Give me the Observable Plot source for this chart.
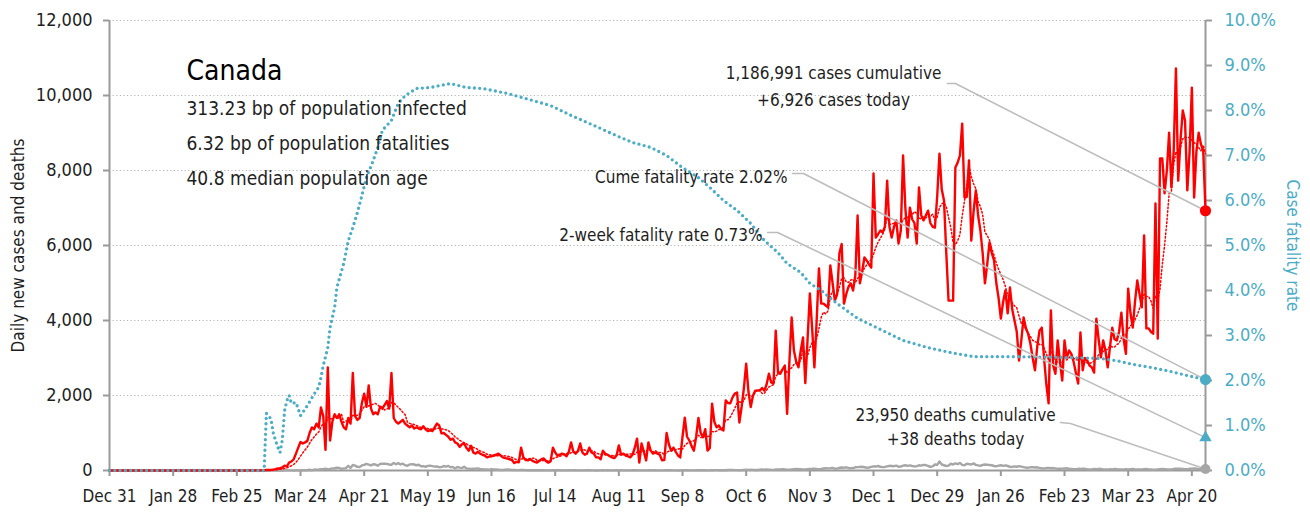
<!DOCTYPE html>
<html><head><meta charset="utf-8">
<script src="https://cdn.jsdelivr.net/npm/d3@7"></script>
<script src="https://cdn.jsdelivr.net/npm/@observablehq/plot@0.6"></script>
<style>
html,body{margin:0;padding:0;background:#fff;}
#chart svg{display:block;}
</style></head><body><div id="chart"></div>
<script>
// ---------------- DATA ----------------
const country = "Canada";
const statLines = ["313.23 bp of population infected", "6.32 bp of population fatalities", "40.8 median population age"];
const domainStart = "2019-12-31";
const domainEnd = "2021-04-26";
const seriesStart = "2020-03-01"; // daily series below start here (earlier days: no cases reported)

// daily new cases, one row per week starting Sunday 2020-03-01
const dailyCases = [
  2, 4, 3, 3, 7, 3, 9,
  6, 13, 16, 15, 25, 36, 55,
  60, 80, 130, 110, 210, 240, 300,
  450, 610, 760, 720, 750, 790, 1000,
  1150, 1100, 1250, 1150, 1680, 1450, 550,
  2750, 800, 1300, 1500, 1400, 1500, 1300,
  1150, 1100, 1400, 1250, 2600, 1450, 1350,
  1400, 1800, 2050, 1700, 2270, 1650, 1500,
  1550, 1500, 1700, 1650, 1750, 1850, 1650,
  2600, 1400, 1300, 1250, 1300, 1350, 1250,
  1200, 1150, 1200, 1120, 1150, 1120, 1100,
  1180, 1100, 1050, 1080, 1050, 1150, 1250,
  1200, 990, 1000, 950, 900, 820, 850,
  750, 720, 630, 700, 720, 600, 530,
  660, 480, 450, 500, 450, 420, 400,
  350, 370, 380, 400, 420, 450, 400,
  350, 330, 320, 300, 280, 200, 230,
  220, 610, 350, 280, 270, 300, 260,
  230, 210, 260, 300, 320, 250, 210,
  250, 610, 480, 400, 420, 450, 430,
  380, 500, 750, 500, 450, 520, 720,
  480, 420, 450, 610, 480, 450, 350,
  350, 300, 530, 450, 420, 380, 350,
  330, 400, 670, 420, 450, 400, 380,
  350, 420, 600, 850, 210, 720, 500,
  270, 750, 530, 450, 480, 450, 420,
  270, 280, 1000, 700, 530, 610, 500,
  400, 350, 900, 1410, 900, 800, 650,
  530, 900, 1400, 1000, 890, 1100, 530,
  600, 1780, 1300, 1150, 1200, 1100, 1070,
  1870, 1800, 1790, 1950, 2050, 2080, 1280,
  1700, 2200, 2850, 2100, 1690, 2000, 2130,
  2130, 2130, 2200, 2130, 2300, 2580, 2350,
  2320, 3730, 2600, 2580, 2700, 2800, 1510,
  2900, 4080, 3200, 2900, 2750, 3200, 3550,
  2330, 3500, 4720, 3800, 2750, 4000, 5390,
  4450, 4450, 4400, 4350, 5470, 5000, 4530,
  4700, 5790, 6040, 4450, 4700, 4900, 4990,
  4800, 5200, 6800, 4990, 5300, 5680, 5600,
  5500, 5410, 7920, 6210, 6300, 6400, 6350,
  6500, 7730, 6500, 6210, 6500, 6670, 6050,
  6400, 8400, 7000, 6210, 7010, 6700, 6600,
  6050, 7550, 6800, 6670, 6800, 6930, 6600,
  6500, 6480, 7300, 8450, 7500, 7200, 5800,
  4530, 4530, 4530, 8080, 8210, 8400, 9250,
  7280, 7300, 8270, 6130, 6900, 7470, 6800,
  6400, 5800, 4990, 5500, 6080, 5800, 5600,
  5000, 4600, 4050, 4500, 4800, 4190, 4880,
  4300, 4000, 3700, 2930, 3470, 4080, 3800,
  3650, 3380, 3000, 2670, 3300, 3730, 3810,
  3000, 2300, 1790, 4270, 2800, 2580, 3470,
  2900, 2400, 3470, 3000, 3200, 3110, 2900,
  2600, 2320, 3680, 2670, 3000, 2930, 2800,
  2750, 2610, 4050, 3500, 3020, 3470, 3200,
  2750, 3300, 3810, 3500, 3470, 3700, 4210,
  3500, 3110, 4850, 4200, 3810, 4500, 5070,
  4700, 4350, 6270, 3790, 3790, 3700, 3650,
  7120, 3520, 8320, 8320, 7390, 8000, 9010,
  7550, 8500, 10720, 7730, 8800, 9600, 9330,
  7470, 8500, 10210, 7280, 8500, 9010, 8700,
  8530, 6926
];

// daily new deaths, same days
const dailyDeaths = [
  0, 0, 0, 0, 0, 0, 0,
  0, 1, 0, 0, 0, 0, 0,
  0, 0, 3, 2, 3, 4, 1,
  7, 4, 5, 8, 8, 6, 20,
  5, 25, 24, 23, 33, 36, 49,
  38, 41, 58, 61, 72, 69, 44,
  56, 65, 126, 67, 147, 130, 97,
  95, 135, 148, 176, 159, 135, 166,
  161, 129, 175, 183, 181, 176, 160,
  152, 202, 166, 197, 161, 182, 141,
  125, 162, 167, 160, 139, 154, 112,
  115, 100, 122, 130, 116, 102, 106,
  88, 90, 120, 101, 121, 86, 96,
  56, 93, 78, 68, 98, 55, 50,
  40, 45, 50, 55, 40, 35, 30,
  25, 20, 35, 30, 25, 20, 15,
  15, 20, 25, 20, 15, 12, 10,
  10, 12, 15, 10, 8, 7, 5,
  5, 6, 8, 5, 7, 4, 3,
  4, 5, 6, 8, 5, 3, 2,
  3, 5, 4, 6, 5, 2, 3,
  3, 4, 5, 6, 3, 2, 2,
  2, 4, 5, 3, 6, 4, 2,
  3, 5, 4, 6, 3, 2, 3,
  4, 6, 5, 5, 4, 3, 2,
  3, 5, 6, 4, 5, 3, 2,
  3, 4, 5, 6, 5, 3, 2,
  2, 3, 5, 6, 7, 4, 3,
  3, 6, 5, 7, 8, 5, 4,
  5, 8, 10, 9, 8, 6, 5,
  6, 12, 14, 15, 11, 10, 8,
  9, 15, 20, 18, 22, 17, 12,
  14, 20, 25, 22, 27, 24, 20,
  18, 25, 30, 28, 32, 27, 22,
  20, 30, 35, 40, 33, 38, 25,
  28, 35, 42, 45, 50, 40, 35,
  40, 55, 60, 58, 62, 70, 48,
  50, 72, 80, 75, 85, 68, 60,
  65, 85, 90, 95, 100, 88, 75,
  80, 95, 110, 105, 120, 100, 90,
  95, 110, 125, 120, 115, 130, 100,
  105, 130, 140, 125, 135, 120, 110,
  115, 140, 130, 150, 145, 120, 100,
  110, 160, 150, 240, 160, 140, 120,
  130, 180, 160, 190, 170, 200, 150,
  140, 180, 170, 160, 190, 150, 135,
  125, 150, 160, 155, 145, 140, 120,
  110, 130, 140, 125, 135, 120, 100,
  95, 110, 100, 115, 105, 90, 80,
  75, 85, 90, 80, 85, 70, 60,
  55, 65, 70, 60, 65, 55, 45,
  45, 50, 55, 60, 45, 40, 35,
  35, 45, 40, 50, 45, 35, 30,
  30, 40, 35, 45, 40, 30, 25,
  25, 35, 30, 40, 35, 30, 25,
  25, 35, 30, 35, 40, 30, 25,
  25, 30, 35, 40, 30, 25, 20,
  20, 30, 35, 40, 35, 30, 25,
  25, 40, 45, 50, 45, 40, 35,
  35, 45, 50, 55, 48, 40, 35,
  35, 38
];

// cumulative case fatality rate (%), read at these dates
const cfrDates = ["2019-12-31","2020-03-08","2020-03-09","2020-03-11","2020-03-12","2020-03-13","2020-03-14","2020-03-15","2020-03-16","2020-03-17","2020-03-18","2020-03-19","2020-03-20","2020-03-22","2020-03-23","2020-03-24","2020-03-25","2020-03-27","2020-03-30","2020-04-01","2020-04-02","2020-04-03","2020-04-05","2020-04-06","2020-04-08","2020-04-09","2020-04-12","2020-04-14","2020-04-16","2020-04-18","2020-04-20","2020-04-22","2020-04-25","2020-04-27","2020-04-29","2020-05-03","2020-05-06","2020-05-09","2020-05-14","2020-05-20","2020-05-29","2020-06-05","2020-06-12","2020-06-23","2020-07-12","2020-07-21","2020-07-26","2020-08-03","2020-08-10","2020-08-17","2020-08-25","2020-09-01","2020-09-08","2020-09-15","2020-09-20","2020-09-26","2020-10-02","2020-10-08","2020-10-14","2020-10-20","2020-10-24","2020-10-30","2020-11-03","2020-11-08","2020-11-15","2020-11-24","2020-12-03","2020-12-14","2020-12-25","2021-01-04","2021-01-14","2021-02-02","2021-02-24","2021-03-11","2021-03-18","2021-03-25","2021-04-02","2021-04-09","2021-04-18","2021-04-26"];
const cfrValues = [0,0,1.27,1.15,0.84,0.67,0.52,0.40,0.68,1.33,1.55,1.67,1.49,1.51,1.37,1.22,1.29,1.44,1.70,1.85,2.07,2.33,2.73,3.18,3.62,4.07,4.60,5.10,5.40,5.73,6.11,6.51,6.89,7.18,7.56,7.78,8.16,8.33,8.49,8.51,8.60,8.51,8.49,8.38,8.11,7.89,7.78,7.60,7.44,7.29,7.18,7.00,6.73,6.51,6.29,6.00,5.78,5.49,5.11,4.84,4.60,4.40,4.16,4.00,3.71,3.38,3.16,2.89,2.73,2.62,2.53,2.53,2.51,2.49,2.44,2.36,2.29,2.22,2.11,2.02];

// latest-day figures
const todayCases = 6926, cumulativeCases = "1,186,991";
const todayDeaths = 38, cumulativeDeaths = "23,950";
const cumeFatalityRate = 2.02;   // %
const twoWeekFatalityRate = 0.73; // %

// axes
const yTicks = [0, 2000, 4000, 6000, 8000, 10000, 12000];
const cfrTicks = [0, 1, 2, 3, 4, 5, 6, 7, 8, 9, 10];
const xTickDates = ["2019-12-31","2020-01-28","2020-02-25","2020-03-24","2020-04-21","2020-05-19","2020-06-16","2020-07-14","2020-08-11","2020-09-08","2020-10-06","2020-11-03","2020-12-01","2020-12-29","2021-01-26","2021-02-23","2021-03-23","2021-04-20"];

// ---------------- BUILD ----------------
const FONT = '"DejaVu Sans Condensed","Liberation Sans Narrow","Arial Narrow",sans-serif';
const RED = "#ff0000", TEAL = "#4bacc6", GRAY = "#a6a6a6", AXIS = "#9a9a9a", LEAD = "#bdbdbd", INK = "#1e1e1e";
const yMax = 12000, cfrMax = 10, k = yMax / cfrMax;   // right axis shares the y scale
const DAY = 864e5;
const t0 = new Date(domainStart + "T00:00Z"), tEnd = new Date(domainEnd + "T00:00Z");
const s0 = new Date(seriesStart + "T00:00Z");
const rows = [
  ...d3.utcDays(t0, s0).map(date => ({date, cases: 0, deaths: 0})),
  ...dailyCases.map((c, i) => ({date: new Date(+s0 + i * DAY), cases: c, deaths: dailyDeaths[i]}))
];
const cfrRows = cfrDates.map((d, i) => ({date: new Date(d + "T00:00Z"), v: cfrValues[i] * k}));
const xTicks = xTickDates.map(d => new Date(d + "T00:00Z"));

// annotations (anchored in data space)
const T = s => new Date(s);
const annMiddle = [
  {date: T("2020-11-13T10:00Z"), v: 10427, text: `${cumulativeCases} cases cumulative`},
  {date: T("2020-11-13T10:00Z"), v: 9733, text: `+${d3.format(",")(todayCases)} cases today`},
  {date: T("2021-01-06T02:00Z"), v: 1333, text: `${cumulativeDeaths} deaths cumulative`},
  {date: T("2021-01-06T02:00Z"), v: 667, text: `+${todayDeaths} deaths today`}
];
const annEnd = [
  {date: T("2020-10-24T05:00Z"), v: 7680, text: `Cume fatality rate ${cumeFatalityRate.toFixed(2)}%`},
  {date: T("2020-10-13T05:00Z"), v: 6133, text: `2-week fatality rate ${twoWeekFatalityRate.toFixed(2)}%`}
];
const leaders = [
  {id: 1, date: T("2021-01-02T12:00Z"), v: 10320}, {id: 1, date: T("2021-01-06T00:00Z"), v: 10320}, {id: 1, date: tEnd, v: todayCases},
  {id: 2, date: T("2020-10-26T10:00Z"), v: 7920}, {id: 2, date: T("2020-10-31T05:00Z"), v: 7920}, {id: 2, date: tEnd, v: cumeFatalityRate * k},
  {id: 3, date: T("2020-10-15T10:00Z"), v: 6347}, {id: 3, date: T("2020-10-19T19:00Z"), v: 6347}, {id: 3, date: tEnd, v: twoWeekFatalityRate * k},
  {id: 4, date: T("2021-02-21T05:00Z"), v: 1280}, {id: 4, date: T("2021-02-25T14:00Z"), v: 1253}, {id: 4, date: tEnd, v: todayDeaths}
];

const chart = Plot.plot({
  width: 1310, height: 512,
  marginLeft: 109, marginRight: 105, marginTop: 20, marginBottom: 42,
  style: {fontFamily: FONT, fontSize: "17px", color: INK, background: "#fff", overflow: "visible"},
  x: {type: "utc", domain: [t0, tEnd]},
  y: {domain: [0, yMax]},
  marks: [
    // grid
    Plot.ruleY(yTicks.filter(d => d > 0), {stroke: "#b4b4b4", strokeWidth: 1.2, strokeDasharray: "1.2,2.4"}),
    // axes
    Plot.axisY({anchor: "left", ticks: yTicks, tickFormat: d3.format(","), tickSize: 6, tickPadding: 11, color: INK, stroke: AXIS, strokeWidth: 2, fontSize: 18, label: null}),
    Plot.axisY({anchor: "right", ticks: cfrTicks.map(d => d * k), tickFormat: d => (d / k).toFixed(1) + "%", tickSize: 6, tickPadding: 13, color: TEAL, stroke: AXIS, strokeWidth: 2, fontSize: 18, label: null}),
    Plot.axisX({ticks: xTicks, tickFormat: d3.utcFormat("%b %-d"), tickSize: 6, tickPadding: 13, color: INK, stroke: AXIS, strokeWidth: 2, fontSize: 17, label: null}),
    Plot.ruleX([t0, tEnd], {stroke: AXIS, strokeWidth: 2}),
    Plot.ruleY([0], {stroke: AXIS, strokeWidth: 2}),
    // axis titles
    Plot.text(["Daily new cases and deaths"], {frameAnchor: "left", textAnchor: "middle", rotate: -90, dx: -91, fontSize: 17, fill: INK}),
    Plot.text(["Case fatality rate"], {frameAnchor: "right", textAnchor: "middle", rotate: 90, dx: 87, fontSize: 17, fill: TEAL}),
    // series
    Plot.lineY(rows, {x: "date", y: "deaths", stroke: GRAY, strokeWidth: 2.4}),
    Plot.lineY(rows, {x: "date", y: "cases", stroke: RED, strokeWidth: 2.4, strokeLinejoin: "round"}),
    Plot.lineY(rows, Plot.windowY({k: 7, anchor: "end"}, {x: "date", y: "cases", stroke: RED, strokeWidth: 1.5, strokeDasharray: "1.5,2.2"})),
    Plot.lineY(cfrRows, {x: "date", y: "v", stroke: TEAL, strokeWidth: 3.3, strokeDasharray: "0,5.3", strokeLinecap: "round"}),
    // leader lines
    Plot.line(leaders, {x: "date", y: "v", z: "id", stroke: LEAD, strokeWidth: 1.6}),
    // end markers
    Plot.dot([{date: tEnd, v: todayDeaths}], {x: "date", y: "v", r: 5, fill: GRAY}),
    Plot.dot([{date: tEnd, v: twoWeekFatalityRate * k}], {x: "date", y: "v", r: 4.6, symbol: "triangle", fill: TEAL}),
    Plot.dot([{date: tEnd, v: cumeFatalityRate * k}], {x: "date", y: "v", r: 5.6, fill: TEAL}),
    Plot.dot([{date: tEnd, v: todayCases}], {x: "date", y: "v", r: 5.6, fill: RED}),
    // annotation texts
    Plot.text(annMiddle, {x: "date", y: "v", text: "text", textAnchor: "middle", lineAnchor: "bottom", fontSize: 17, fill: INK}),
    Plot.text(annEnd, {x: "date", y: "v", text: "text", textAnchor: "end", lineAnchor: "bottom", fontSize: 17, fill: INK}),
    // title block
    Plot.text([country], {frameAnchor: "top-left", textAnchor: "start", lineAnchor: "bottom", dx: 77, dy: 59, fontSize: 28, fill: "#000"}),
    Plot.text([statLines.join("\n")], {frameAnchor: "top-left", textAnchor: "start", lineAnchor: "bottom", dx: 77, dy: 164, fontSize: 19, lineHeight: 1.82, fill: INK})
  ]
});
document.getElementById("chart").appendChild(chart);
</script>
</body></html>
